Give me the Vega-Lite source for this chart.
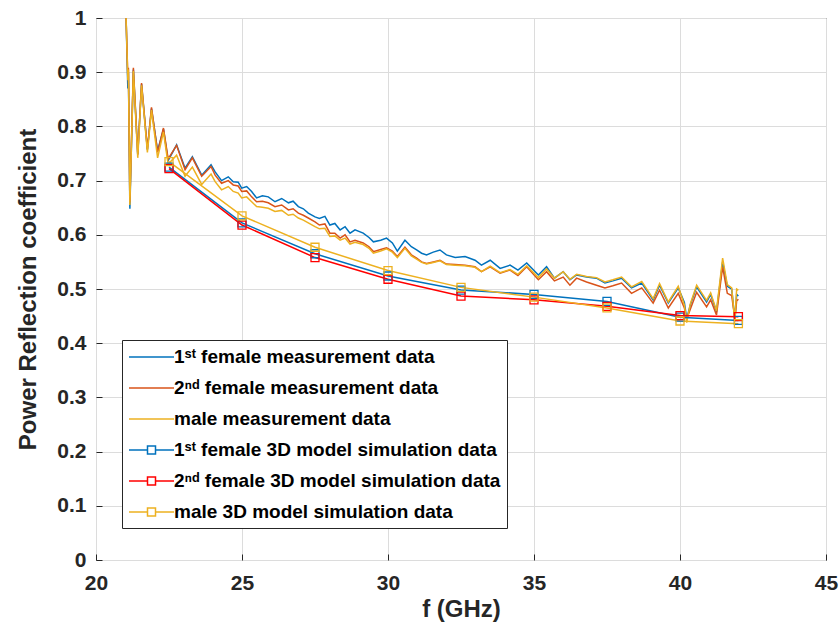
{
  "$schema": "https://vega.github.io/schema/vega-lite/v6.json",
  "autosize": {"type": "none"},
  "padding": {"left": 96, "top": 18, "right": 14, "bottom": 64},
  "width": 730,
  "height": 542,
  "background": "white",
  "config": {
    "view": {"stroke": "#262626", "strokeWidth": 1},
    "font": "Liberation Sans",
    "axis": {
      "grid": true,
      "gridColor": "#dcdcdc",
      "gridWidth": 1,
      "domain": false,
      "tickColor": "#262626",
      "tickSize": -6,
      "labelFont": "Liberation Sans",
      "labelFontSize": 21,
      "labelFontWeight": "bold",
      "labelColor": "#262626",
      "titleFont": "Liberation Sans",
      "titleFontSize": 24,
      "titleFontWeight": "bold",
      "titleColor": "#262626"
    }
  },
  "data": {
    "values": [
      {"s":"m1","f":21.03,"v":1.0},{"s":"m1","f":21.09,"v":0.87},{"s":"m1","f":21.11,"v":0.9},{"s":"m1","f":21.16,"v":0.648},{"s":"m1","f":21.28,"v":0.905},{"s":"m1","f":21.43,"v":0.748},{"s":"m1","f":21.56,"v":0.878},{"s":"m1","f":21.76,"v":0.757},{"s":"m1","f":21.9,"v":0.833},{"s":"m1","f":22.11,"v":0.755},{"s":"m1","f":22.31,"v":0.795},{"s":"m1","f":22.47,"v":0.737},{"s":"m1","f":22.76,"v":0.766},{"s":"m1","f":23.05,"v":0.723},{"s":"m1","f":23.3,"v":0.744},{"s":"m1","f":23.62,"v":0.71},{"s":"m1","f":23.94,"v":0.729},{"s":"m1","f":24.08,"v":0.716},{"s":"m1","f":24.3,"v":0.7},{"s":"m1","f":24.53,"v":0.707},{"s":"m1","f":24.7,"v":0.698},{"s":"m1","f":24.87,"v":0.697},{"s":"m1","f":24.99,"v":0.686},{"s":"m1","f":25.16,"v":0.689},{"s":"m1","f":25.33,"v":0.68},{"s":"m1","f":25.5,"v":0.668},{"s":"m1","f":25.7,"v":0.672},{"s":"m1","f":25.9,"v":0.67},{"s":"m1","f":26.13,"v":0.661},{"s":"m1","f":26.36,"v":0.667},{"s":"m1","f":26.59,"v":0.659},{"s":"m1","f":26.75,"v":0.662},{"s":"m1","f":26.93,"v":0.652},{"s":"m1","f":27.1,"v":0.648},{"s":"m1","f":27.27,"v":0.64},{"s":"m1","f":27.5,"v":0.633},{"s":"m1","f":27.65,"v":0.63},{"s":"m1","f":27.84,"v":0.634},{"s":"m1","f":28.01,"v":0.618},{"s":"m1","f":28.18,"v":0.621},{"s":"m1","f":28.36,"v":0.609},{"s":"m1","f":28.53,"v":0.615},{"s":"m1","f":28.7,"v":0.603},{"s":"m1","f":28.87,"v":0.609},{"s":"m1","f":29.15,"v":0.603},{"s":"m1","f":29.35,"v":0.595},{"s":"m1","f":29.5,"v":0.587},{"s":"m1","f":29.75,"v":0.59},{"s":"m1","f":29.95,"v":0.594},{"s":"m1","f":30.15,"v":0.585},{"s":"m1","f":30.32,"v":0.57},{"s":"m1","f":30.58,"v":0.59},{"s":"m1","f":30.8,"v":0.578},{"s":"m1","f":30.98,"v":0.572},{"s":"m1","f":31.15,"v":0.566},{"s":"m1","f":31.32,"v":0.563},{"s":"m1","f":31.55,"v":0.568},{"s":"m1","f":31.78,"v":0.572},{"s":"m1","f":32.0,"v":0.563},{"s":"m1","f":32.3,"v":0.558},{"s":"m1","f":32.64,"v":0.56},{"s":"m1","f":32.98,"v":0.553},{"s":"m1","f":33.2,"v":0.544},{"s":"m1","f":33.5,"v":0.553},{"s":"m1","f":33.84,"v":0.538},{"s":"m1","f":34.18,"v":0.544},{"s":"m1","f":34.45,"v":0.535},{"s":"m1","f":34.75,"v":0.548},{"s":"m1","f":35.15,"v":0.526},{"s":"m1","f":35.43,"v":0.541},{"s":"m1","f":35.7,"v":0.52},{"s":"m1","f":36.0,"v":0.532},{"s":"m1","f":36.23,"v":0.517},{"s":"m1","f":36.46,"v":0.526},{"s":"m1","f":36.8,"v":0.522},{"s":"m1","f":37.14,"v":0.52},{"s":"m1","f":37.43,"v":0.511},{"s":"m1","f":37.7,"v":0.515},{"s":"m1","f":38.0,"v":0.52},{"s":"m1","f":38.34,"v":0.502},{"s":"m1","f":38.69,"v":0.511},{"s":"m1","f":39.08,"v":0.48},{"s":"m1","f":39.3,"v":0.507},{"s":"m1","f":39.6,"v":0.474},{"s":"m1","f":39.94,"v":0.502},{"s":"m1","f":40.15,"v":0.475},{"s":"m1","f":40.23,"v":0.445},{"s":"m1","f":40.35,"v":0.47},{"s":"m1","f":40.57,"v":0.504},{"s":"m1","f":40.91,"v":0.476},{"s":"m1","f":41.05,"v":0.49},{"s":"m1","f":41.25,"v":0.458},{"s":"m1","f":41.46,"v":0.55},{"s":"m1","f":41.62,"v":0.505},{"s":"m1","f":41.77,"v":0.5},{"s":"m1","f":41.88,"v":0.443},{"s":"m1","f":41.94,"v":0.49},{"s":"m1","f":42.0,"v":0.487},

      {"s":"m2","f":21.03,"v":1.0},{"s":"m2","f":21.09,"v":0.89},{"s":"m2","f":21.11,"v":0.908},{"s":"m2","f":21.16,"v":0.66},{"s":"m2","f":21.28,"v":0.908},{"s":"m2","f":21.43,"v":0.748},{"s":"m2","f":21.56,"v":0.88},{"s":"m2","f":21.76,"v":0.758},{"s":"m2","f":21.9,"v":0.835},{"s":"m2","f":22.11,"v":0.752},{"s":"m2","f":22.31,"v":0.797},{"s":"m2","f":22.47,"v":0.74},{"s":"m2","f":22.76,"v":0.765},{"s":"m2","f":23.05,"v":0.72},{"s":"m2","f":23.3,"v":0.742},{"s":"m2","f":23.62,"v":0.708},{"s":"m2","f":23.94,"v":0.726},{"s":"m2","f":24.08,"v":0.71},{"s":"m2","f":24.3,"v":0.695},{"s":"m2","f":24.53,"v":0.7},{"s":"m2","f":24.7,"v":0.692},{"s":"m2","f":24.87,"v":0.69},{"s":"m2","f":24.99,"v":0.68},{"s":"m2","f":25.16,"v":0.681},{"s":"m2","f":25.33,"v":0.67},{"s":"m2","f":25.5,"v":0.661},{"s":"m2","f":25.7,"v":0.662},{"s":"m2","f":25.9,"v":0.659},{"s":"m2","f":26.13,"v":0.652},{"s":"m2","f":26.36,"v":0.655},{"s":"m2","f":26.59,"v":0.646},{"s":"m2","f":26.75,"v":0.648},{"s":"m2","f":26.93,"v":0.64},{"s":"m2","f":27.1,"v":0.636},{"s":"m2","f":27.27,"v":0.631},{"s":"m2","f":27.5,"v":0.624},{"s":"m2","f":27.65,"v":0.618},{"s":"m2","f":27.84,"v":0.62},{"s":"m2","f":28.01,"v":0.603},{"s":"m2","f":28.18,"v":0.603},{"s":"m2","f":28.36,"v":0.594},{"s":"m2","f":28.53,"v":0.6},{"s":"m2","f":28.7,"v":0.587},{"s":"m2","f":28.87,"v":0.59},{"s":"m2","f":29.15,"v":0.585},{"s":"m2","f":29.35,"v":0.578},{"s":"m2","f":29.5,"v":0.569},{"s":"m2","f":29.75,"v":0.573},{"s":"m2","f":29.95,"v":0.576},{"s":"m2","f":30.15,"v":0.57},{"s":"m2","f":30.32,"v":0.56},{"s":"m2","f":30.58,"v":0.577},{"s":"m2","f":30.8,"v":0.563},{"s":"m2","f":30.98,"v":0.557},{"s":"m2","f":31.15,"v":0.55},{"s":"m2","f":31.32,"v":0.547},{"s":"m2","f":31.55,"v":0.55},{"s":"m2","f":31.78,"v":0.553},{"s":"m2","f":32.0,"v":0.546},{"s":"m2","f":32.3,"v":0.545},{"s":"m2","f":32.64,"v":0.544},{"s":"m2","f":32.98,"v":0.541},{"s":"m2","f":33.2,"v":0.532},{"s":"m2","f":33.5,"v":0.541},{"s":"m2","f":33.84,"v":0.529},{"s":"m2","f":34.18,"v":0.535},{"s":"m2","f":34.45,"v":0.525},{"s":"m2","f":34.75,"v":0.541},{"s":"m2","f":35.15,"v":0.517},{"s":"m2","f":35.43,"v":0.532},{"s":"m2","f":35.7,"v":0.515},{"s":"m2","f":36.0,"v":0.522},{"s":"m2","f":36.23,"v":0.507},{"s":"m2","f":36.46,"v":0.52},{"s":"m2","f":36.8,"v":0.513},{"s":"m2","f":37.14,"v":0.507},{"s":"m2","f":37.43,"v":0.502},{"s":"m2","f":37.7,"v":0.506},{"s":"m2","f":38.0,"v":0.511},{"s":"m2","f":38.34,"v":0.492},{"s":"m2","f":38.69,"v":0.502},{"s":"m2","f":39.08,"v":0.474},{"s":"m2","f":39.3,"v":0.498},{"s":"m2","f":39.6,"v":0.465},{"s":"m2","f":39.94,"v":0.492},{"s":"m2","f":40.15,"v":0.465},{"s":"m2","f":40.23,"v":0.445},{"s":"m2","f":40.35,"v":0.462},{"s":"m2","f":40.57,"v":0.494},{"s":"m2","f":40.91,"v":0.467},{"s":"m2","f":41.05,"v":0.48},{"s":"m2","f":41.25,"v":0.452},{"s":"m2","f":41.46,"v":0.541},{"s":"m2","f":41.62,"v":0.492},{"s":"m2","f":41.77,"v":0.488},{"s":"m2","f":41.88,"v":0.445},{"s":"m2","f":41.94,"v":0.478},{"s":"m2","f":42.0,"v":0.481},

      {"s":"m3","f":21.03,"v":1.0},{"s":"m3","f":21.09,"v":0.885},{"s":"m3","f":21.11,"v":0.905},{"s":"m3","f":21.16,"v":0.655},{"s":"m3","f":21.28,"v":0.902},{"s":"m3","f":21.43,"v":0.742},{"s":"m3","f":21.56,"v":0.876},{"s":"m3","f":21.76,"v":0.752},{"s":"m3","f":21.9,"v":0.83},{"s":"m3","f":22.11,"v":0.742},{"s":"m3","f":22.31,"v":0.79},{"s":"m3","f":22.47,"v":0.73},{"s":"m3","f":22.76,"v":0.747},{"s":"m3","f":23.05,"v":0.708},{"s":"m3","f":23.3,"v":0.725},{"s":"m3","f":23.62,"v":0.693},{"s":"m3","f":23.94,"v":0.712},{"s":"m3","f":24.08,"v":0.698},{"s":"m3","f":24.3,"v":0.683},{"s":"m3","f":24.53,"v":0.689},{"s":"m3","f":24.7,"v":0.68},{"s":"m3","f":24.87,"v":0.677},{"s":"m3","f":24.99,"v":0.668},{"s":"m3","f":25.16,"v":0.67},{"s":"m3","f":25.33,"v":0.661},{"s":"m3","f":25.5,"v":0.652},{"s":"m3","f":25.7,"v":0.651},{"s":"m3","f":25.9,"v":0.649},{"s":"m3","f":26.13,"v":0.643},{"s":"m3","f":26.36,"v":0.645},{"s":"m3","f":26.59,"v":0.636},{"s":"m3","f":26.75,"v":0.638},{"s":"m3","f":26.93,"v":0.631},{"s":"m3","f":27.1,"v":0.627},{"s":"m3","f":27.27,"v":0.622},{"s":"m3","f":27.5,"v":0.615},{"s":"m3","f":27.65,"v":0.611},{"s":"m3","f":27.84,"v":0.612},{"s":"m3","f":28.01,"v":0.597},{"s":"m3","f":28.18,"v":0.598},{"s":"m3","f":28.36,"v":0.59},{"s":"m3","f":28.53,"v":0.594},{"s":"m3","f":28.7,"v":0.583},{"s":"m3","f":28.87,"v":0.586},{"s":"m3","f":29.15,"v":0.582},{"s":"m3","f":29.35,"v":0.575},{"s":"m3","f":29.5,"v":0.566},{"s":"m3","f":29.75,"v":0.57},{"s":"m3","f":29.95,"v":0.574},{"s":"m3","f":30.15,"v":0.568},{"s":"m3","f":30.32,"v":0.558},{"s":"m3","f":30.58,"v":0.575},{"s":"m3","f":30.8,"v":0.561},{"s":"m3","f":30.98,"v":0.555},{"s":"m3","f":31.15,"v":0.549},{"s":"m3","f":31.32,"v":0.546},{"s":"m3","f":31.55,"v":0.549},{"s":"m3","f":31.78,"v":0.552},{"s":"m3","f":32.0,"v":0.545},{"s":"m3","f":32.3,"v":0.544},{"s":"m3","f":32.64,"v":0.543},{"s":"m3","f":32.98,"v":0.54},{"s":"m3","f":33.2,"v":0.532},{"s":"m3","f":33.5,"v":0.542},{"s":"m3","f":33.84,"v":0.53},{"s":"m3","f":34.18,"v":0.536},{"s":"m3","f":34.45,"v":0.527},{"s":"m3","f":34.75,"v":0.543},{"s":"m3","f":35.15,"v":0.521},{"s":"m3","f":35.43,"v":0.537},{"s":"m3","f":35.7,"v":0.52},{"s":"m3","f":36.0,"v":0.532},{"s":"m3","f":36.23,"v":0.518},{"s":"m3","f":36.46,"v":0.527},{"s":"m3","f":36.8,"v":0.523},{"s":"m3","f":37.14,"v":0.521},{"s":"m3","f":37.43,"v":0.513},{"s":"m3","f":37.7,"v":0.517},{"s":"m3","f":38.0,"v":0.522},{"s":"m3","f":38.34,"v":0.504},{"s":"m3","f":38.69,"v":0.514},{"s":"m3","f":39.08,"v":0.482},{"s":"m3","f":39.3,"v":0.51},{"s":"m3","f":39.6,"v":0.476},{"s":"m3","f":39.94,"v":0.505},{"s":"m3","f":40.15,"v":0.47},{"s":"m3","f":40.23,"v":0.438},{"s":"m3","f":40.35,"v":0.472},{"s":"m3","f":40.57,"v":0.507},{"s":"m3","f":40.91,"v":0.479},{"s":"m3","f":41.05,"v":0.493},{"s":"m3","f":41.25,"v":0.46},{"s":"m3","f":41.46,"v":0.557},{"s":"m3","f":41.62,"v":0.508},{"s":"m3","f":41.77,"v":0.502},{"s":"m3","f":41.88,"v":0.44},{"s":"m3","f":41.94,"v":0.5},{"s":"m3","f":42.0,"v":0.498},

      {"s":"s1","f":22.5,"v":0.725},{"s":"s1","f":25,"v":0.622},{"s":"s1","f":27.5,"v":0.565},{"s":"s1","f":30,"v":0.524},{"s":"s1","f":32.5,"v":0.498},{"s":"s1","f":35,"v":0.49},{"s":"s1","f":37.5,"v":0.477},{"s":"s1","f":40,"v":0.448},{"s":"s1","f":42,"v":0.442},
      {"s":"s2","f":22.5,"v":0.722},{"s":"s2","f":25,"v":0.618},{"s":"s2","f":27.5,"v":0.558},{"s":"s2","f":30,"v":0.518},{"s":"s2","f":32.5,"v":0.487},{"s":"s2","f":35,"v":0.48},{"s":"s2","f":37.5,"v":0.468},{"s":"s2","f":40,"v":0.451},{"s":"s2","f":42,"v":0.449},
      {"s":"s3","f":22.5,"v":0.735},{"s":"s3","f":25,"v":0.635},{"s":"s3","f":27.5,"v":0.577},{"s":"s3","f":30,"v":0.534},{"s":"s3","f":32.5,"v":0.503},{"s":"s3","f":35,"v":0.485},{"s":"s3","f":37.5,"v":0.465},{"s":"s3","f":40,"v":0.441},{"s":"s3","f":42,"v":0.436}
    ]
  },
  "encoding": {
    "x": {
      "field": "f", "type": "quantitative",
      "scale": {"domain": [20, 45], "nice": false},
      "axis": {"values": [20, 25, 30, 35, 40, 45], "title": "f (GHz)", "labelPadding": 18, "titlePadding": 4, "labelFlush": false}
    },
    "y": {
      "field": "v", "type": "quantitative",
      "scale": {"domain": [0, 1], "nice": false},
      "axis": {"values": [0, 0.1, 0.2, 0.3, 0.4, 0.5, 0.6, 0.7, 0.8, 0.9, 1], "format": ".1~f", "title": "Power Reflection coefficient", "labelPadding": 16, "titlePadding": 16}
    },
    "color": {
      "field": "s", "type": "nominal",
      "scale": {
        "domain": ["m1", "m2", "m3", "s1", "s2", "s3"],
        "range": ["#0072BD", "#D95319", "#EDB120", "#0072BD", "#FF0000", "#EDB120"]
      }
    }
  },
  "layer": [
    {
      "mark": {"type": "line", "strokeWidth": 1.5, "clip": true},
      "encoding": {
        "color": {
          "field": "s", "type": "nominal",
          "scale": {
            "domain": ["m1", "m2", "m3", "s1", "s2", "s3"],
            "range": ["#0072BD", "#D95319", "#EDB120", "#0072BD", "#FF0000", "#EDB120"]
          },
          "legend": {
            "orient": "none",
            "legendX": 26,
            "legendY": 322,
            "title": null,
            "strokeColor": "#262626",
            "fillColor": "white",
            "padding": 6,
            "labelFont": "Liberation Sans",
            "labelFontSize": 19,
            "labelFontWeight": "bold",
            "labelColor": "#000000",
            "labelLimit": 0,
            "labelOffset": 24,
            "symbolSize": 400,
            "symbolStrokeWidth": 1.5,
            "symbolType": "M-1,0H3.5",
            "rowPadding": 10,
            "labelExpr": "datum.value == 'm1' ? '1ˢᵗ female measurement data' : datum.value == 'm2' ? '2ⁿᵈ female measurement data' : datum.value == 'm3' ? 'male measurement data' : datum.value == 's1' ? '1ˢᵗ female 3D model simulation data' : datum.value == 's2' ? '2ⁿᵈ female 3D model simulation data' : 'male 3D model simulation data'",
            "encode": {
              "symbols": {
                "update": {
                  "shape": {"signal": "indexof(datum.value, 's') == 0 ? 'M-1,0H0.85M1.65,0H3.5M0.85,-0.4H1.65V0.4H0.85Z' : 'M-1,0H3.5'"},
                  "fill": {"value": "transparent"}
                }
              }
            }
          }
        }
      }
    },
    {
      "transform": [{"filter": {"field": "s", "oneOf": ["s1", "s2", "s3"]}}],
      "mark": {"type": "point", "shape": "square", "filled": false, "size": 64, "strokeWidth": 1.3, "opacity": 1},
      "encoding": {
        "color": {"field": "s", "type": "nominal", "legend": null}
      }
    }
  ]
}
